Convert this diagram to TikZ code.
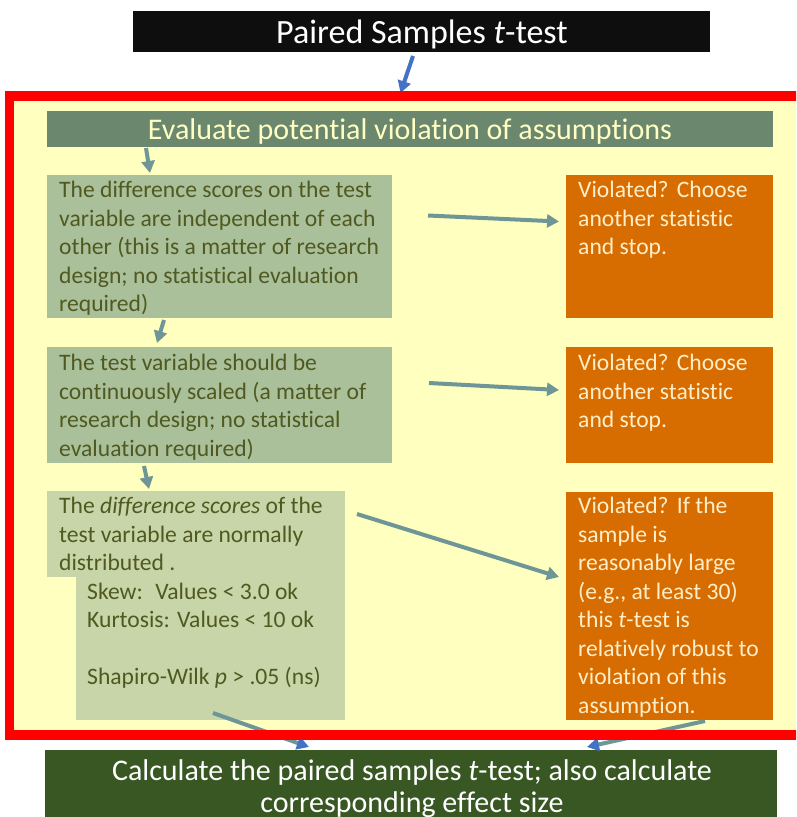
\documentclass[tikz,border=0pt]{standalone}
\usepackage{fontspec}
\setmainfont{Carlito}[Ligatures=NoCommon]
\usetikzlibrary{arrows.meta,calc}
\definecolor{titleblack}{RGB}{14,14,14}
\definecolor{framered}{RGB}{255,0,0}
\definecolor{frameyellow}{RGB}{255,255,192}
\definecolor{hdrgreen}{RGB}{107,135,110}
\definecolor{hdrtext}{RGB}{255,255,195}
\definecolor{boxgreen}{RGB}{170,192,154}
\definecolor{boxlight}{RGB}{200,213,168}
\definecolor{greentext}{RGB}{79,89,32}
\definecolor{boxorange}{RGB}{215,108,0}
\definecolor{orangetext}{RGB}{255,238,200}
\definecolor{bottomgreen}{RGB}{56,87,35}
\definecolor{arrowteal}{RGB}{110,150,150}
\definecolor{arrowblue}{RGB}{68,114,196}
\begin{document}
\begin{tikzpicture}[x=1pt,y=-1pt,
  shape box/.style={draw=none, inner sep=0pt, outer sep=0pt, anchor=north west},
  bodytext/.style={inner sep=0pt, anchor=north west, align=left, font=\fontsize{23.6}{28.5}\selectfont},
  conn/.style={draw=arrowteal, line width=4pt, -{Triangle[length=12pt,width=13pt]}},
  blueconn/.style={draw=arrowblue, line width=4pt, -{Triangle[length=12pt,width=13pt]}},
  mixconn/.style={draw=arrowteal, line width=4pt, -{Triangle[length=12pt,width=13pt,color=arrowblue]}},
]
\clip (0,0) rectangle (796,817);
\fill[white] (0,0) rectangle (796,817);

% title
\node[shape box, fill=titleblack, minimum width=577, minimum height=41] (title) at (133,11) {};
\node[anchor=base, inner sep=0pt, text=white, font=\fontsize{34}{40}\selectfont] (titletext) at (422,43) {Paired Samples \textit{t}-test};

% frame fill
\node[shape box, fill=frameyellow, minimum width=795.5, minimum height=639] (frame) at (9.5,96) {};

% header
\node[shape box, fill=hdrgreen, minimum width=726, minimum height=36] (hdr) at (47,111) {};
\node[anchor=base, inner sep=0pt, text=hdrtext, font=\fontsize{30}{36}\selectfont] (hdrtext) at (410,139) {Evaluate potential violation of assumptions};

% green boxes
\node[shape box, fill=boxgreen, minimum width=345, minimum height=143] (g1) at (47,175) {};
\node[shape box, fill=boxgreen, minimum width=345, minimum height=116] (g2) at (47,347) {};
\node[shape box, fill=boxlight, minimum width=298, minimum height=86] (g3a) at (47,491) {};
\node[shape box, fill=boxlight, minimum width=269, minimum height=143] (g3b) at (76,577) {};

% orange boxes
\node[shape box, fill=boxorange, minimum width=207, minimum height=143] (o1) at (566,175) {};
\node[shape box, fill=boxorange, minimum width=207, minimum height=116] (o2) at (566,347) {};
\node[shape box, fill=boxorange, minimum width=207, minimum height=228] (o3) at (566,492) {};

% texts
\node[bodytext, text=greentext] (t1) at (59,177.5) {\strut The difference scores on the test\\variable are independent of each\\other (this is a matter of research\\design; no statistical evaluation\\required)};
\node[bodytext, text=greentext] (t2) at (59,350.5) {\strut The test variable should be\\continuously scaled (a matter of\\research design; no statistical\\evaluation required)};
\node[bodytext, text=greentext] (t3) at (59,493.5) {\strut The \textit{difference scores} of the\\test variable are normally\\distributed .\\\hspace*{28pt}Skew:~ Values < 3.0 ok\\\hspace*{28pt}Kurtosis: Values < 10 ok\\[28.5pt]\hspace*{28pt}Shapiro-Wilk \textit{p} > .05 (ns)};

\node[bodytext, text=orangetext] (ot1) at (578,177.5) {\strut Violated?\hspace{0.35em}Choose\\another statistic\\and stop.};
\node[bodytext, text=orangetext] (ot2) at (578,350.5) {\strut Violated?\hspace{0.35em}Choose\\another statistic\\and stop.};
\node[bodytext, text=orangetext] (ot3) at (578,493.5) {\strut Violated?\hspace{0.35em}If the\\sample is\\reasonably large\\(e.g., at least 30)\\this \textit{t}-test is\\relatively robust to\\violation of this\\assumption.};

% bottom box
\node[shape box, fill=bottomgreen, minimum width=732, minimum height=80] (bottom) at (45,750) {};
\node[anchor=north, inner sep=0pt, align=center, text=white, font=\fontsize{30}{32}\selectfont] (bottomtext) at (412,757.5) {\strut Calculate the paired samples \textit{t}-test; also calculate\\corresponding effect size};

% connectors
\draw[blueconn] ($(title.south west)+(280,4)$) -- ($(frame.north west)+(391,-3)$);
\draw[conn] ($(hdr.south west)+(99,1)$) -- ($(g1.north west)+(103,-2)$);
\draw[conn] ($(g1.east)+(36,-31)$) -- ($(o1.west)+(-7,-25)$);
\draw[conn] ($(g1.south west)+(117,2)$) -- ($(g2.north west)+(110,-4)$);
\draw[conn] ($(g2.east)+(37,-22)$) -- ($(o2.west)+(-7,-15)$);
\draw[conn] ($(g2.south west)+(97,3)$) -- ($(g3a.north west)+(102,-2)$);
\draw[conn] ($(g3a.east)+(12,-20)$) -- ($(o3.west)+(-7,-29)$);
\draw[mixconn] ($(g3b.south west)+(137,-7)$) -- ($(bottom.north west)+(264,-3)$);
\draw[mixconn] ($(o3.south west)+(139,1)$) -- ($(bottom.north west)+(542,-3)$);

% frame border on top
\draw[framered, line width=9.5pt] (frame.north west) rectangle (frame.south east);
\end{tikzpicture}
\end{document}
